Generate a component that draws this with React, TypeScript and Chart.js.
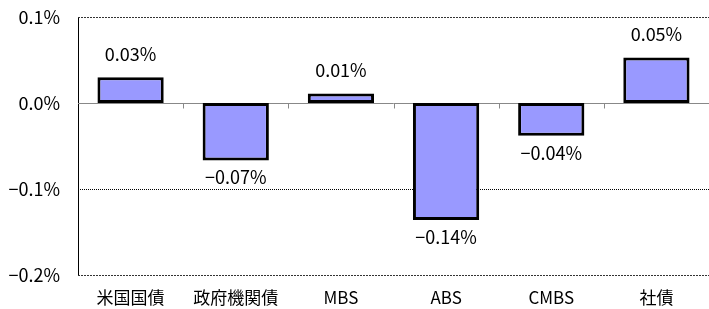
import React, { useEffect, useRef } from "react";
import { Chart, registerables } from "chart.js";

Chart.register(...registerables);

const categories = ["米国国債", "政府機関債", "MBS", "ABS", "CMBS", "社債"];
const values = [0.03, -0.067, 0.011, -0.136, -0.038, 0.053];
const yTicks = [0.1, 0.0, -0.1, -0.2];

const FONT = '"Noto Sans CJK JP", "Liberation Sans", sans-serif';

const fmt = (v: number, d: number) => {
  const n = Math.abs(v) < 1e-9 ? 0 : v;
  return n.toFixed(d).replace("-", "\u2212") + "%";
};

const decorPlugin = {
  id: "decor",
  beforeDatasetsDraw(chart: any) {
    const { ctx, chartArea, scales } = chart;
    const { left, right } = chartArea;
    const y = scales.y;
    const x = scales.x;
    const hline = (v: number, color: string, dash: number[]) => {
      const py = Math.round(y.getPixelForValue(v)) + 0.5;
      ctx.save();
      ctx.strokeStyle = color;
      ctx.lineWidth = 1;
      ctx.setLineDash(dash);
      ctx.beginPath();
      ctx.moveTo(left, py);
      ctx.lineTo(right, py);
      ctx.stroke();
      ctx.restore();
    };
    hline(yTicks[0], "#333", [2, 1]);
    hline(yTicks[2], "#000", [1, 1]);
    hline(yTicks[3], "#333", [2, 1]);
    hline(0, "#888", []);
    const zy = Math.round(y.getPixelForValue(0)) + 0.5;
    ctx.save();
    ctx.strokeStyle = "#888";
    ctx.lineWidth = 1;
    for (let i = 1; i < categories.length; i++) {
      const px = Math.round((x.getPixelForValue(i - 1) + x.getPixelForValue(i)) / 2) + 0.5;
      ctx.beginPath();
      ctx.moveTo(px, zy);
      ctx.lineTo(px, zy + 5);
      ctx.stroke();
    }
    ctx.restore();
  },
  afterDatasetsDraw(chart: any) {
    const { ctx } = chart;
    const meta = chart.getDatasetMeta(0);
    ctx.save();
    ctx.font = `18px ${FONT}`;
    ctx.fillStyle = "#000";
    ctx.textAlign = "center";
    ctx.textBaseline = "middle";
    meta.data.forEach((bar: any, i: number) => {
      const v = values[i];
      const text = fmt(v, 2);
      const ty = v >= 0 ? bar.y - 23 : bar.y + 17;
      ctx.fillText(text, bar.x, ty);
    });
    ctx.restore();
  },
};

export default function App() {
  const ref = useRef<HTMLCanvasElement | null>(null);
  useEffect(() => {
    document.body.style.margin = "0";
    if (!ref.current) return;
    const chart = new Chart(ref.current, {
      type: "bar",
      data: {
        labels: categories,
        datasets: [
          {
            data: values,
            backgroundColor: "#9999FF",
            borderColor: "#000",
            borderWidth: 3,
            borderSkipped: false,
            barPercentage: 0.63,
            categoryPercentage: 1,
          },
        ],
      },
      options: {
        animation: false,
        responsive: false,
        maintainAspectRatio: false,
        devicePixelRatio: 1,
        layout: { padding: { top: 17, right: 0, bottom: 0, left: 0 } },
        plugins: { legend: { display: false }, tooltip: { enabled: false } },
        scales: {
          x: {
            grid: { display: false, drawTicks: false },
            border: { display: false },
            ticks: {
              color: "#000",
              font: { family: FONT, size: 17 },
              padding: 12,
              maxRotation: 0,
              autoSkip: false,
            },
            afterFit: (s: any) => {
              s.height = 34;
              s.paddingLeft = 0;
              s.paddingRight = 0;
            },
          },
          y: {
            min: -0.2,
            max: 0.1,
            grid: { display: false, drawTicks: false },
            border: { display: true, color: "#000", width: 1 },
            afterBuildTicks: (s: any) => {
              s.ticks = yTicks.map((v) => ({ value: v }));
            },
            ticks: {
              color: "#000",
              font: { family: FONT, size: 18 },
              padding: 18,
              callback: (v: any) => fmt(Number(v), 1),
            },
            afterFit: (s: any) => {
              s.width = 78;
              s.paddingTop = 0;
              s.paddingBottom = 0;
            },
          },
        },
      },
      plugins: [decorPlugin],
    });
    return () => chart.destroy();
  }, []);
  return (
    <div style={{ position: "fixed", left: 0, top: 0, width: 709, height: 309, background: "#fff" }}>
      <canvas ref={ref} width={709} height={309} style={{ width: 709, height: 309 }} />
    </div>
  );
}
